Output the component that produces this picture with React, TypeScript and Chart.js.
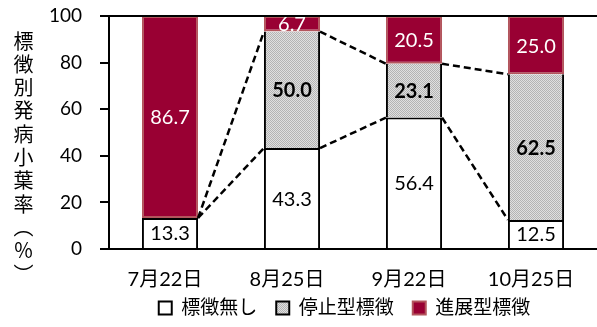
import React, { useEffect, useRef } from "react";
import { Chart, registerables } from "chart.js";

Chart.register(...registerables);

const categories = ["7月22日", "8月25日", "9月22日", "10月25日"];
const noSymptom = [13.3, 43.3, 56.4, 12.5];
const stoppedType = [null, 50.0, 23.1, 62.5];
const progressiveType = [86.7, 6.7, 20.5, 25.0];
const seriesNames = ["標徴無し", "停止型標徴", "進展型標徴"];
const yTicks = [0, 20, 40, 60, 80, 100];
const yTitle = "標徴別発病小葉率（％）";

const FONT = 'Lato, "Noto Sans CJK JP", sans-serif';

function makePattern(): CanvasPattern | string {
  const c = document.createElement("canvas");
  c.width = 4;
  c.height = 4;
  const g = c.getContext("2d");
  if (!g) return "#c8c8c8";
  g.fillStyle = "#e0e0e0";
  g.fillRect(0, 0, 4, 4);
  g.fillStyle = "#b4b4b4";
  for (let y = 0; y < 4; y++) {
    for (let x = 0; x < 4; x++) {
      if ((x + y) % 2 === 0) g.fillRect(x, y, 1, 1);
    }
  }
  return g.createPattern(c, "repeat") || "#c8c8c8";
}

const seriesLinePlugin = {
  id: "seriesLines",
  beforeLayout(chart: any) {
    const lg = chart.legend;
    if (!lg || lg.__patched) return;
    const origFit = lg.fit.bind(lg);
    lg.fit = function () {
      origFit();
      this.height = 38;
    };
    lg.__patched = true;
  },
  afterLayout(chart: any) {
    const lg = chart.legend;
    if (!lg) return;
    const dx = 46;
    lg.left += dx;
    lg.right += dx;
    const newTop = 308 - 19 - 9.5;
    const dy = newTop - lg.top;
    lg.top += dy;
    lg.bottom += dy;
  },
  afterDatasetsDraw(chart: any) {
    const ctx = chart.ctx;
    const y = chart.scales.y;
    const m0 = chart.getDatasetMeta(0).data;
    const n = categories.length;
    const cumA = noSymptom.map((v) => v ?? 0);
    const cumB = noSymptom.map((v, i) => (v ?? 0) + (stoppedType[i] ?? 0));
    ctx.save();
    ctx.strokeStyle = "#000";
    ctx.lineWidth = 2.5;
    ctx.setLineDash([7, 4]);
    for (let i = 0; i < n - 1; i++) {
      const a = m0[i];
      const b = m0[i + 1];
      const x1 = a.x + a.width / 2;
      const x2 = b.x - b.width / 2;
      for (const cum of [cumA, cumB]) {
        ctx.beginPath();
        ctx.moveTo(x1, y.getPixelForValue(cum[i]));
        ctx.lineTo(x2, y.getPixelForValue(cum[i + 1]));
        ctx.stroke();
      }
    }
    ctx.restore();

    // data labels
    const styles = [
      { color: "#000", weight: "normal" },
      { color: "#000", weight: "bold" },
      { color: "#fff", weight: "normal" },
    ];
    const dataArrs = [noSymptom, stoppedType, progressiveType];
    ctx.save();
    ctx.textAlign = "center";
    ctx.textBaseline = "middle";
    for (let d = 0; d < 3; d++) {
      const meta = chart.getDatasetMeta(d).data;
      for (let i = 0; i < n; i++) {
        const v = dataArrs[d][i];
        if (v == null || v === 0) continue;
        const el = meta[i];
        const cy = (el.y + el.base) / 2;
        ctx.font = `${styles[d].weight} 20px ${FONT}`;
        ctx.fillStyle = styles[d].color;
        ctx.fillText(v.toFixed(1), el.x, cy + 1);
      }
    }
    ctx.restore();
  },
  afterDraw(chart: any) {
    const ctx = chart.ctx;
    const a = chart.chartArea;
    ctx.save();
    ctx.strokeStyle = "#000";
    ctx.lineWidth = 2;
    ctx.beginPath();
    ctx.moveTo(a.left, a.top);
    ctx.lineTo(a.right, a.top);
    ctx.stroke();
    ctx.restore();
  },
};

export default function App() {
  const ref = useRef<HTMLCanvasElement | null>(null);
  useEffect(() => {
    document.body.style.margin = "0";
    const canvas = ref.current;
    if (!canvas) return;
    const pattern = makePattern();
    const chart = new Chart(canvas, {
      type: "bar",
      data: {
        labels: categories,
        datasets: [
          {
            label: seriesNames[0],
            data: noSymptom,
            backgroundColor: "#ffffff",
            borderColor: "#000000",
            borderWidth: { top: 2, left: 2, right: 2, bottom: 0 } as any,
            borderSkipped: false,
          },
          {
            label: seriesNames[1],
            data: stoppedType as any,
            backgroundColor: pattern as any,
            borderColor: "#000000",
            borderWidth: { top: 0, left: 2, right: 2, bottom: 0 } as any,
            borderSkipped: false,
          },
          {
            label: seriesNames[2],
            data: progressiveType,
            backgroundColor: "#990033",
            borderColor: "#b3555d",
            borderWidth: 2,
            borderSkipped: false,
          },
        ],
      },
      options: {
        responsive: false,
        animation: false,
        devicePixelRatio: 1,
        datasets: { bar: { barPercentage: 0.46, categoryPercentage: 1 } },
        layout: { padding: { top: 0, right: 0, left: 0, bottom: 0 } },
        plugins: {
          legend: {
            position: "bottom",
            labels: {
              font: { family: FONT, size: 19 },
              color: "#000",
              boxWidth: 13,
              boxHeight: 13,
              padding: 19,
              generateLabels: (chart: any) => {
                const items = Chart.defaults.plugins.legend.labels.generateLabels(chart);
                items.forEach((it: any) => {
                  it.lineWidth = 2;
                });
                return items;
              },
            },
          },
          tooltip: { enabled: false },
        },
        scales: {
          x: {
            stacked: true,
            grid: { display: false },
            border: { display: true, color: "#000", width: 2 },
            afterFit: (s: any) => {
              s.height = 40;
            },
            ticks: {
              font: { family: FONT, size: 20 },
              color: "#000",
              padding: 11,
              labelOffset: -5,
              maxRotation: 0,
            },
          },
          y: {
            stacked: true,
            min: 0,
            max: 100,
            afterBuildTicks: (s: any) => {
              s.ticks = yTicks.map((v) => ({ value: v }));
            },
            afterFit: (s: any) => {
              s.width = 109;
              s.paddingTop = 16;
              s.paddingBottom = 0;
            },
            grid: {
              display: true,
              drawOnChartArea: false,
              drawTicks: true,
              tickLength: 9,
              color: "#000",
              lineWidth: 2,
            },
            border: { display: true, color: "#000", width: 2 },
            ticks: {
              font: { family: FONT, size: 19 },
              color: "#000",
              padding: 18,
            },
          },
        },
      },
      plugins: [seriesLinePlugin],
    });
    return () => chart.destroy();
  }, []);

  return (
    <div style={{ position: "relative", width: 597, height: 327, background: "#fff" }}>
      <canvas ref={ref} width={597} height={327} style={{ display: "block" }} />
      <div
        style={{
          position: "absolute",
          left: 13,
          top: 31,
          writingMode: "vertical-rl",
          fontFamily: '"Noto Sans CJK JP", sans-serif',
          fontSize: 20,
          lineHeight: 1,
          letterSpacing: 3.3,
          color: "#000",
        }}
      >
        {yTitle}
      </div>
    </div>
  );
}
